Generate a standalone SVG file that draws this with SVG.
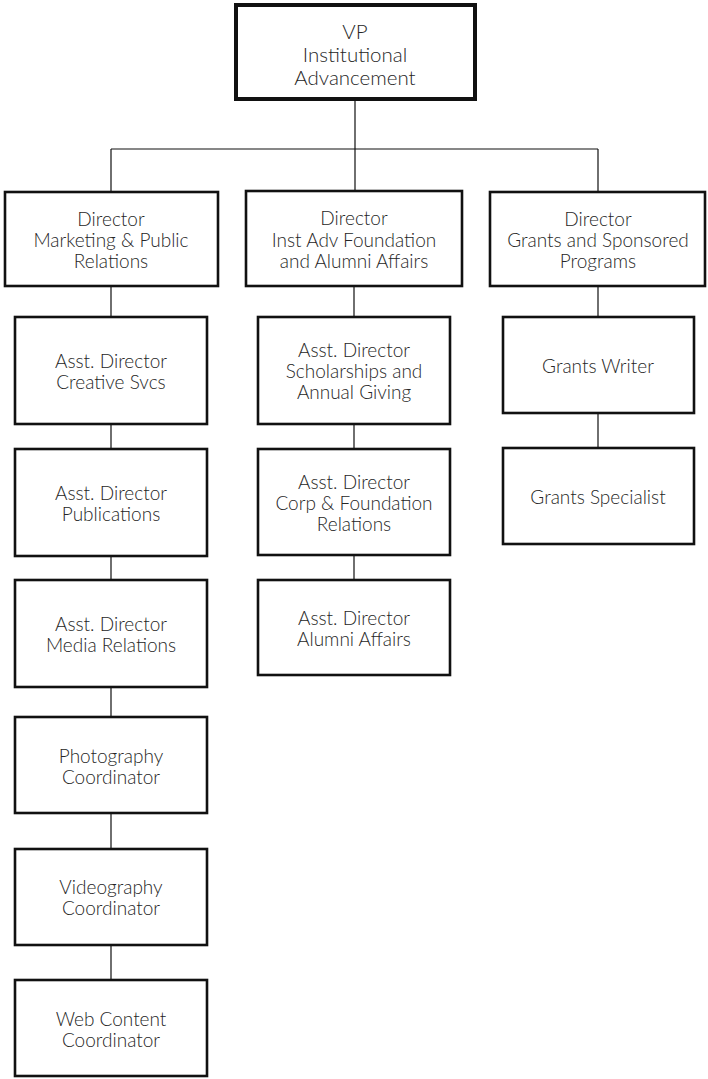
<svg xmlns="http://www.w3.org/2000/svg" width="708" height="1079" viewBox="0 0 708 1079">
<style>
.box{fill:#fff;stroke:#111;stroke-width:2.6}
.vp{fill:#fff;stroke:#111;stroke-width:4}
.t{font-family:Lato,"Open Sans","Liberation Sans",sans-serif;font-weight:300;font-size:19px;fill:#262626;text-anchor:middle}
.tv{font-size:20.5px}
.c{stroke:#111;stroke-width:1.2;fill:none}
</style>
<rect width="708" height="1079" fill="#fff"/>
<g id="connectors">
<path class="c" d="M355 100V191M111 149H598M111 149V191M598 149V191"/>
<path class="c" d="M111 287V316M111 425V448M111 557V579M111 688V716M111 814V848M111 946V979"/>
<path class="c" d="M354 287V316M354 425V448M354 556V579"/>
<path class="c" d="M598 287V316M598 414V447"/>
</g>
<g id="vp"><rect class="vp" x="236" y="5" width="239" height="94"/>
<text class="t tv" x="355" y="39">VP</text><text class="t tv" x="355" y="62">Institutional</text><text class="t tv" x="355" y="85">Advancement</text></g>
<g id="dir-marketing"><rect class="box" x="5" y="192" width="213" height="94"/>
<text class="t" x="111" y="226">Director</text><text class="t" x="111" y="247">Marketing &amp; Public</text><text class="t" x="111" y="268">Relations</text></g>
<g id="dir-foundation"><rect class="box" x="246" y="191" width="216" height="95"/>
<text class="t" x="354" y="225">Director</text><text class="t" x="354" y="247">Inst Adv Foundation</text><text class="t" x="354" y="268">and Alumni Affairs</text></g>
<g id="dir-grants"><rect class="box" x="490" y="192" width="215" height="94"/>
<text class="t" x="598" y="226">Director</text><text class="t" x="598" y="247">Grants and Sponsored</text><text class="t" x="598" y="268">Programs</text></g>
<g id="creative"><rect class="box" x="15" y="317" width="192" height="107"/>
<text class="t" x="111" y="368">Asst. Director</text><text class="t" x="111" y="389">Creative Svcs</text></g>
<g id="publications"><rect class="box" x="15" y="449" width="192" height="107"/>
<text class="t" x="111" y="500">Asst. Director</text><text class="t" x="111" y="521">Publications</text></g>
<g id="media"><rect class="box" x="15" y="580" width="192" height="107"/>
<text class="t" x="111" y="631">Asst. Director</text><text class="t" x="111" y="652">Media Relations</text></g>
<g id="photo"><rect class="box" x="15" y="717" width="192" height="96"/>
<text class="t" x="111" y="763">Photography</text><text class="t" x="111" y="784">Coordinator</text></g>
<g id="video"><rect class="box" x="15" y="849" width="192" height="96"/>
<text class="t" x="111" y="894">Videography</text><text class="t" x="111" y="915">Coordinator</text></g>
<g id="web"><rect class="box" x="15" y="980" width="192" height="96"/>
<text class="t" x="111" y="1026">Web Content</text><text class="t" x="111" y="1047">Coordinator</text></g>
<g id="scholarships"><rect class="box" x="258" y="317" width="192" height="107"/>
<text class="t" x="354" y="357">Asst. Director</text><text class="t" x="354" y="378">Scholarships and</text><text class="t" x="354" y="399">Annual Giving</text></g>
<g id="corp"><rect class="box" x="258" y="449" width="192" height="106"/>
<text class="t" x="354" y="489">Asst. Director</text><text class="t" x="354" y="510">Corp &amp; Foundation</text><text class="t" x="354" y="531">Relations</text></g>
<g id="alumni"><rect class="box" x="258" y="580" width="192" height="95"/>
<text class="t" x="354" y="625">Asst. Director</text><text class="t" x="354" y="646">Alumni Affairs</text></g>
<g id="writer"><rect class="box" x="503" y="317" width="191" height="96"/>
<text class="t" x="598" y="373">Grants Writer</text></g>
<g id="specialist"><rect class="box" x="503" y="448" width="191" height="96"/>
<text class="t" x="598" y="504">Grants Specialist</text></g>
</svg>
